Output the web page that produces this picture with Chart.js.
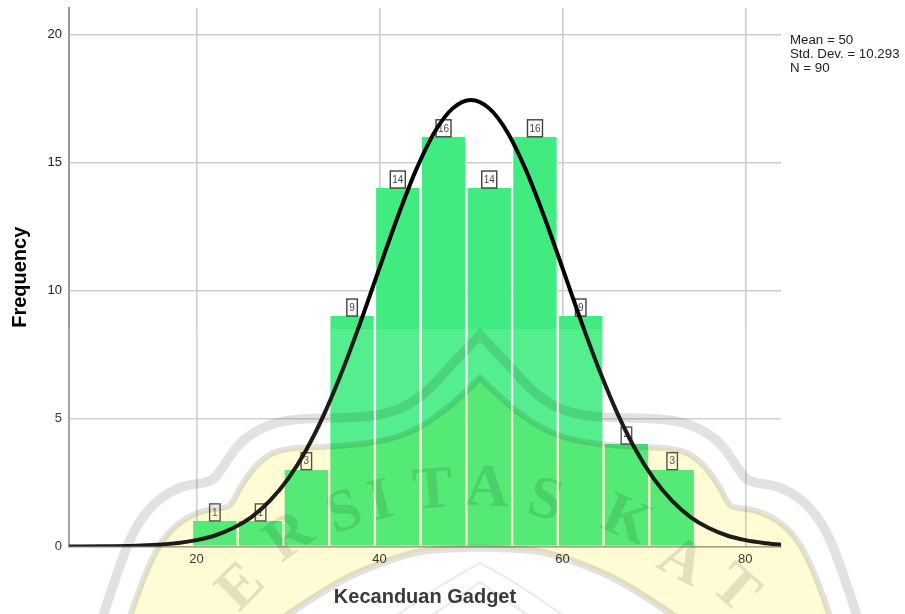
<!DOCTYPE html>
<html><head><meta charset="utf-8">
<style>html,body{margin:0;padding:0;background:#fff;overflow:hidden}canvas{display:block;filter:blur(0.35px)}</style>
<script src="https://cdn.jsdelivr.net/npm/chart.js@4"></script></head>
<body><canvas id="c" width="905" height="614"></canvas>
<script>
const binCenters=[22,27,32,37,42,47,52,57,62,67,72];
const frequency=[1,1,3,9,14,16,14,16,9,4,3];
const curveX=[6,10,14,18,20,22,24,26,28,30,32,34,36,38,40,42,44,46,48,50,52,54,56,58,60,62,64,66,68,70,72,74,76,78,80,82,84];
const curveY=[0.00,0.01,0.04,0.14,0.25,0.43,0.72,1.15,1.78,2.64,3.78,5.21,6.92,8.84,10.88,12.89,14.71,16.17,17.11,17.44,17.11,16.17,14.71,12.89,10.88,8.84,6.92,5.21,3.78,2.64,1.78,1.15,0.72,0.43,0.25,0.14,0.07];
const xTicks=[20,40,60,80];
const yTicks=[0,5,10,15,20];
const statLines=['Mean = 50','Std. Dev. = 10.293','N = 90'];
const xTitle='Kecanduan Gadget';
const yTitle='Frequency';
const wmLetters=[['E',242,588,-45],['R',290,538,-35],['S',345,514,-20],['I',381,503,-14],['T',433,492,-5],['A',487,490,3],['S',545,502,14],['K',626,522,24],['A',681,563,28],['T',734,590,42]];
const wmOuter=[[480,335],[452,364],[420,400],[380,417],[320,418],[287,420],[265,426],[242,440],[227,460],[216,478],[205,483],[180,486],[153,503],[133,531],[118,570],[103,616]];
const wmInner=[[480,378],[452,405],[420,428],[387,441],[335,447],[280,448],[257,463],[240,487],[232,504],[225,508],[203,510],[177,523],[157,547],[140,587],[130,616]];
const wmArch=[[480,548],[445,549],[413,552],[357,572],[320,593],[280,620]];
const wmChev=[[[480,563],[520,585],[570,620]],[[480,582],[505,600],[535,620]]];
function smooth(ctx,p,mirror,move){
  const X=q=>mirror?960-q[0]:q[0];
  if(move)ctx.moveTo(X(p[0]),p[0][1]);else ctx.lineTo(X(p[0]),p[0][1]);
  for(let i=1;i<p.length-1;i++){
    ctx.quadraticCurveTo(X(p[i]),p[i][1],(X(p[i])+X(p[i+1]))/2,(p[i][1]+p[i+1][1])/2);
  }
  ctx.lineTo(X(p[p.length-1]),p[p.length-1][1]);
}
const bg={id:'bg',beforeDraw(ch){const c=ch.ctx;c.save();c.fillStyle='#fff';c.fillRect(0,0,ch.width,ch.height);c.restore();}};
const boxes={id:'boxes',afterDatasetDraw(ch,args){
  if(args.index!==0)return;
  const c=ch.ctx;c.save();
  args.meta.data.forEach((el,i)=>{
    const t=String(frequency[i]);
    const w=t.length>1?15:10.5,h=17;
    const x=el.x,y=el.y;
    c.fillStyle='#fff';c.strokeStyle='#404040';c.lineWidth=1.4;
    c.fillRect(x-w/2,y-h,w,h);c.strokeRect(x-w/2,y-h,w,h);
    c.fillStyle='#444';c.font='10px "Liberation Sans"';c.textAlign='center';c.textBaseline='middle';
    c.fillText(t,x,y-h/2+0.5);
  });
  c.restore();
}};
const overlay={id:'overlay',afterDraw(ch){
  const c=ch.ctx;c.save();
  c.fillStyle='#222';c.font='13.3px "Liberation Sans"';c.textBaseline='middle';c.textAlign='left';
  statLines.forEach((s,i)=>c.fillText(s,790,40.5+i*13.7));
  c.fillStyle='rgba(255,255,255,0.11)';c.fillRect(0,329,905,285);
  c.globalCompositeOperation='multiply';
  c.fillStyle='rgb(255,251,212)';
  c.beginPath();
  smooth(c,wmInner,false,true);
  smooth(c,wmArch.slice().reverse(),false,false);
  smooth(c,wmArch,true,false);
  smooth(c,wmInner.slice().reverse(),true,false);
  c.closePath();c.fill();
  c.strokeStyle='rgb(226,226,226)';c.lineJoin='miter';c.lineCap='butt';
  const band=(p,w)=>{c.lineWidth=w;c.beginPath();smooth(c,p.slice().reverse(),false,true);smooth(c,p,true,false);c.stroke();};
  band(wmOuter,9.5);band(wmInner,6);band(wmArch,7);
  c.strokeStyle='rgb(238,238,232)';
  wmChev.forEach(p=>band(p,2.5));
  c.font='bold 60px "Liberation Serif"';c.textAlign='center';c.textBaseline='middle';c.fillStyle='rgb(228,228,228)';
  wmLetters.forEach(l=>{c.save();c.translate(l[1],l[2]);c.rotate(l[3]*Math.PI/180);c.fillText(l[0],0,0);c.restore();});
  c.restore();
}};
new Chart(document.getElementById('c'),{
  type:'bar',
  data:{datasets:[
    {type:'bar',order:1,data:binCenters.map((x,i)=>({x,y:frequency[i]})),backgroundColor:'#40EC80',borderColor:'#fff',borderWidth:{left:1.2,right:1.2,top:0,bottom:0},inflateAmount:0,barPercentage:1,categoryPercentage:1},
    {type:'line',order:0,data:curveX.map((x,i)=>({x,y:curveY[i]})),borderColor:'#000',borderWidth:4,pointRadius:0,cubicInterpolationMode:'monotone',fill:false}
  ]},
  options:{
    responsive:false,animation:false,devicePixelRatio:1,
    layout:{padding:{left:0,top:8,right:124,bottom:0}},
    plugins:{legend:{display:false},tooltip:{enabled:false}},
    scales:{
      x:{type:'linear',min:6.05,max:83.9,offset:false,
        grid:{offset:false,color:'#cccccc',lineWidth:1.6,drawTicks:false},
        border:{display:true,color:'#9a9a9a',width:1.6},
        afterFit(s){s.height=67.5;s.paddingLeft=0;s.paddingRight=0;},
        afterBuildTicks(s){s.ticks=xTicks.map(v=>({value:v}));},
        ticks:{padding:5,color:'#222',font:{family:'"Liberation Sans"',size:13},maxRotation:0,autoSkip:false},
        title:{display:true,text:xTitle,color:'#222',font:{family:'"Liberation Sans"',size:20,weight:'bold'},padding:{top:0,bottom:5}}
      },
      y:{type:'linear',min:0,max:21.03,
        grid:{color:'#cccccc',lineWidth:1.6,drawTicks:false},
        border:{display:true,color:'#9a9a9a',width:2},
        afterFit(s){s.width=69;s.paddingTop=0;s.paddingBottom=0;},
        afterBuildTicks(s){s.ticks=yTicks.map(v=>({value:v}));},
        ticks:{padding:7,color:'#222',font:{family:'"Liberation Sans"',size:13}},
        title:{display:true,text:yTitle,color:'#000',font:{family:'"Liberation Sans"',size:20,weight:'bold'},padding:{top:8,bottom:0}}
      }
    }
  },
  plugins:[bg,boxes,overlay]
});
</script></body></html>
